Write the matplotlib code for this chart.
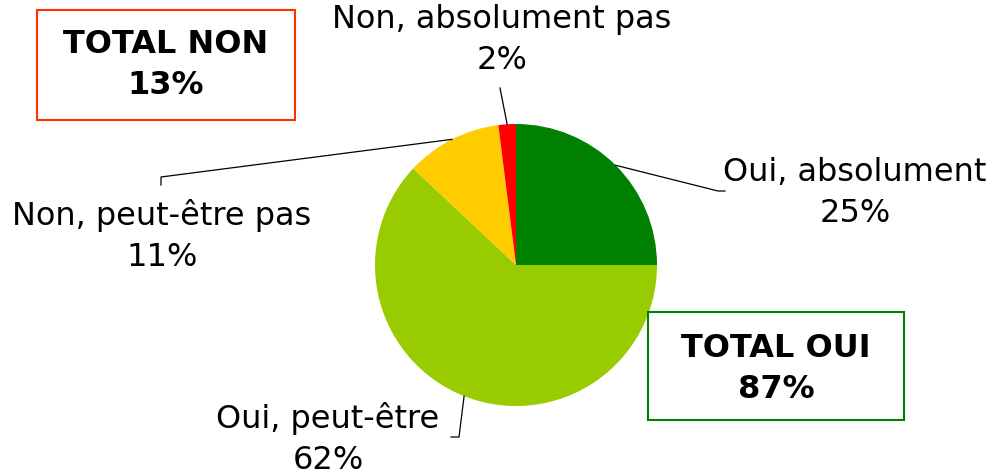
import matplotlib
matplotlib.use("Agg")
import matplotlib.pyplot as plt
import numpy as np

# Data
labels = ["Oui, absolument", "Oui, peut-être", "Non, peut-être pas", "Non, absolument pas"]
values = [25, 62, 11, 2]
colors = ["#008000", "#99CC00", "#FFCC00", "#FF0000"]
total_non = 13
total_oui = 87

W, H = 994, 476
fig = plt.figure(figsize=(W / 100, H / 100), dpi=100)
ax = fig.add_axes([0, 0, 1, 1])
ax.set_xlim(0, W)
ax.set_ylim(0, H)
ax.axis("off")

cx, cy, r = 516, H - 265, 141
wedges, _ = ax.pie(values, colors=colors, startangle=90, counterclock=False,
                   center=(cx, cy), radius=r, wedgeprops=dict(linewidth=0))
ax.set_xlim(0, W)
ax.set_ylim(0, H)
ax.set_aspect("auto")

# label text positions (pixel coords, top origin) and leader elbows
label_pos = [(855, 193), (328, 439), (162, 236), (502, 40)]
elbows = [
    [(718, 191), (725, 191)],
    [(459, 437), (451, 437)],
    [(161, 177), (161, 185)],
    [(500, 88)],
]
fs = 23
for w, lab, v, (lx, ly), elb in zip(wedges, labels, values, label_pos, elbows):
    mid = np.deg2rad((w.theta1 + w.theta2) / 2)
    x0, y0 = cx + r * np.cos(mid), cy + r * np.sin(mid)
    xs = [x0] + [p[0] for p in elb]
    ys = [y0] + [H - p[1] for p in elb]
    ax.plot(xs, ys, color="black", lw=0.9)
    ax.text(lx, H - ly, f"{lab}\n{v}%", ha="center", va="center",
            fontsize=fs, linespacing=1.45, color="black")

# totals boxes
ax.add_patch(plt.Rectangle((37, H - 120), 258, 110, fill=False,
                           edgecolor="#FF3300", lw=1.5))
ax.text(166, H - 65, f"TOTAL NON\n{total_non}%", ha="center", va="center",
        fontsize=fs, fontweight="bold", linespacing=1.38)
ax.add_patch(plt.Rectangle((648, H - 420), 256, 108, fill=False,
                           edgecolor="#008000", lw=1.5))
ax.text(776, H - 369, f"TOTAL OUI\n{total_oui}%", ha="center", va="center",
        fontsize=fs, fontweight="bold", linespacing=1.38)

fig.savefig("out.png", dpi=100)
